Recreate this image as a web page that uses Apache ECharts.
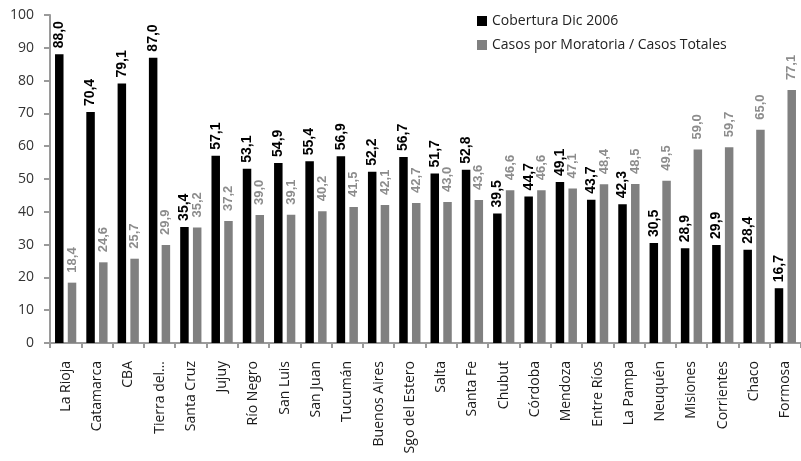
<!DOCTYPE html>
<html>
<head>
<meta charset="utf-8">
<script src="https://cdn.jsdelivr.net/npm/echarts@6/dist/echarts.min.js"></script>
<style>
  html, body { margin: 0; padding: 0; background: #fff; }
  #chart { width: 801px; height: 461px; }
</style>
</head>
<body>
<div id="chart"></div>
<script>
// Provinces, ordered by coverage vs. moratorium share
const provincias = ['La Rioja', 'Catamarca', 'CBA', 'Tierra del…', 'Santa Cruz', 'Jujuy', 'Río Negro',
  'San Luis', 'San Juan', 'Tucumán', 'Buenos Aires', 'Sgo del Estero', 'Salta', 'Santa Fe',
  'Chubut', 'Córdoba', 'Mendoza', 'Entre Ríos', 'La Pampa', 'Neuquén', 'Misiones',
  'Corrientes', 'Chaco', 'Formosa'];

// Cobertura a diciembre de 2006 (%)
const cobertura = [88.0, 70.4, 79.1, 87.0, 35.4, 57.1, 53.1, 54.9, 55.4, 56.9, 52.2, 56.7,
  51.7, 52.8, 39.5, 44.7, 49.1, 43.7, 42.3, 30.5, 28.9, 29.9, 28.4, 16.7];

// Casos por moratoria sobre casos totales (%)
const moratoria = [18.4, 24.6, 25.7, 29.9, 35.2, 37.2, 39.0, 39.1, 40.2, 41.5, 42.1, 42.7,
  43.0, 43.6, 46.6, 46.6, 47.1, 48.4, 48.5, 49.5, 59.0, 59.7, 65.0, 77.1];

const yTicks = { min: 0, max: 100, interval: 10 };

const fmt = v => v.toFixed(1).replace('.', ',');

const chart = echarts.init(document.getElementById('chart'), null, { renderer: 'canvas' });

chart.setOption({
  animation: false,
  backgroundColor: '#ffffff',
  grid: { left: 50, right: 0, top: 15, bottom: 118, containLabel: false },
  legend: {
    orient: 'vertical',
    left: 472,
    top: 9,
    itemWidth: 10,
    itemHeight: 10,
    itemGap: 10,
    icon: 'rect',
    textStyle: { fontFamily: 'Open Sans', fontSize: 14, color: '#222' },
    data: ['Cobertura Dic 2006', 'Casos por Moratoria / Casos Totales']
  },
  xAxis: {
    type: 'category',
    data: provincias,
    axisLine: { lineStyle: { color: '#9a9a9a', width: 2 } },
    axisTick: { show: true, length: 5, lineStyle: { color: '#9a9a9a', width: 2 } },
    axisLabel: {
      rotate: 90,
      interval: 0,
      margin: 18,
      fontFamily: 'Open Sans',
      fontSize: 14,
      color: '#1a1a1a'
    }
  },
  yAxis: {
    type: 'value',
    min: yTicks.min,
    max: yTicks.max,
    interval: yTicks.interval,
    splitLine: { show: false },
    axisLine: { show: true, lineStyle: { color: '#9a9a9a', width: 2 } },
    axisTick: { show: true, length: 6, lineStyle: { color: '#9a9a9a', width: 2 } },
    axisLabel: { fontFamily: 'Open Sans', fontSize: 14, color: '#333', margin: 16 }
  },
  series: [
    {
      name: 'Cobertura Dic 2006',
      type: 'bar',
      data: cobertura,
      barWidth: 8.5,
      barGap: '50%',
      itemStyle: { color: '#000000' },
      label: {
        show: true,
        position: 'top',
        rotate: 90,
        align: 'left',
        verticalAlign: 'middle',
        distance: 6,
        formatter: p => fmt(p.value),
        fontFamily: 'Liberation Sans',
        fontWeight: 'bold',
        fontSize: 14,
        color: '#000'
      }
    },
    {
      name: 'Casos por Moratoria / Casos Totales',
      type: 'bar',
      data: moratoria,
      barWidth: 8.5,
      itemStyle: { color: '#808080' },
      label: {
        show: true,
        position: 'top',
        rotate: 90,
        align: 'left',
        verticalAlign: 'middle',
        distance: 10,
        formatter: p => fmt(p.value),
        fontFamily: 'Liberation Sans',
        fontWeight: 'bold',
        fontSize: 13,
        color: '#8c8c8c'
      }
    }
  ]
});
</script>
</body>
</html>
